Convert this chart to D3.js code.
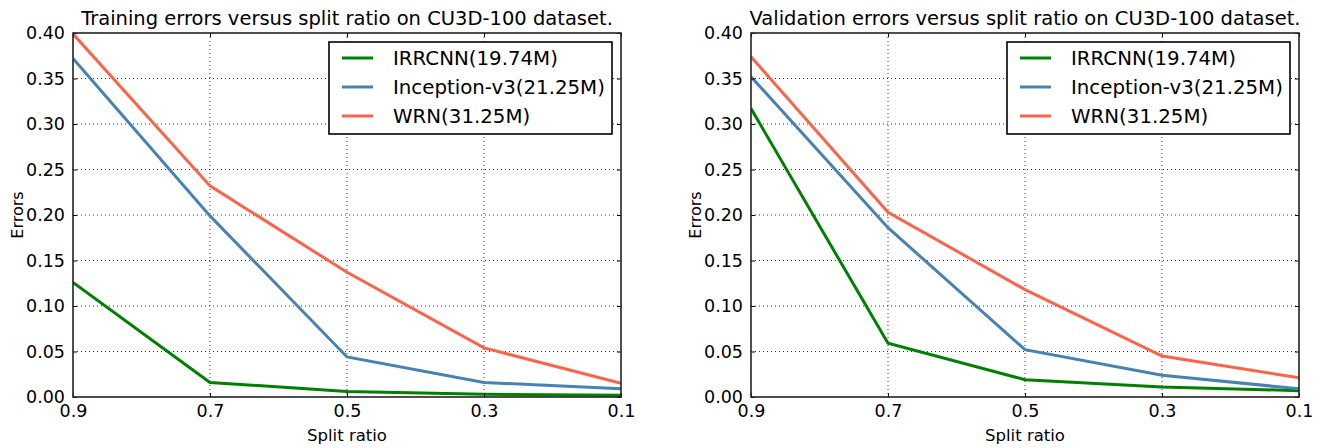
<!DOCTYPE html>
<html>
<head>
<meta charset="utf-8">
<script src="https://cdn.jsdelivr.net/npm/d3@7"></script>
<style>
  body { margin: 0; background: #fff; }
  svg { display: block; }
  text { font-family: "DejaVu Sans", sans-serif; fill: #000; }
</style>
</head>
<body>
<script>
var splitRatios = [0.9, 0.7, 0.5, 0.3, 0.1];
var xTicks = [0.9, 0.7, 0.5, 0.3, 0.1];
var yTicks = [0, 0.05, 0.1, 0.15, 0.2, 0.25, 0.3, 0.35, 0.4];
var seriesNames = ['IRRCNN(19.74M)', 'Inception-v3(21.25M)', 'WRN(31.25M)'];
var seriesColors = ['#008000', '#4682b4', '#ff6347'];

var trainIRRCNN = [0.126, 0.016, 0.006, 0.003, 0.002];
var trainInception = [0.372, 0.199, 0.044, 0.016, 0.009];
var trainWRN = [0.399, 0.232, 0.137, 0.054, 0.015];

var valIRRCNN = [0.317, 0.059, 0.019, 0.011, 0.007];
var valInception = [0.352, 0.186, 0.052, 0.024, 0.009];
var valWRN = [0.374, 0.203, 0.118, 0.045, 0.021];

var svg = d3.select('body').append('svg')
  .attr('width', 1320)
  .attr('height', 448);

var drawPanel = function(opts) {
  var left = opts.left, right = opts.right, top = 33, bottom = 397;
  var x = d3.scaleLinear().domain([0.9, 0.1]).range([left, right]);
  var y = d3.scaleLinear().domain([0, 0.4]).range([bottom, top]);
  var g = svg.append('g');

  // grid
  g.selectAll('.vgrid').data(xTicks.slice(1, -1)).enter().append('line')
    .attr('x1', function(d) { return x(d); })
    .attr('x2', function(d) { return x(d); })
    .attr('y1', top).attr('y2', bottom)
    .attr('stroke', '#000').attr('stroke-width', 0.8)
    .attr('stroke-dasharray', '1,3');
  g.selectAll('.hgrid').data(yTicks.slice(1, -1)).enter().append('line')
    .attr('x1', left).attr('x2', right)
    .attr('y1', function(d) { return y(d); })
    .attr('y2', function(d) { return y(d); })
    .attr('stroke', '#000').attr('stroke-width', 0.8)
    .attr('stroke-dasharray', '1,3');

  // lines
  var line = d3.line()
    .x(function(d, i) { return x(splitRatios[i]); })
    .y(function(d) { return y(d); });
  var clipId = 'clip' + left;
  svg.append('clipPath').attr('id', clipId).append('rect')
    .attr('x', left).attr('y', top).attr('width', right - left).attr('height', bottom - top);
  opts.series.forEach(function(s, i) {
    g.append('path')
      .datum(s)
      .attr('clip-path', 'url(#' + clipId + ')')
      .attr('d', line)
      .attr('fill', 'none')
      .attr('stroke', seriesColors[i])
      .attr('stroke-width', 3);
  });

  // axes (inward ticks on all sides)
  var tickLen = 4;
  g.append('g').attr('transform', 'translate(0,' + bottom + ')')
    .call(d3.axisBottom(x).tickValues(xTicks).tickSizeInner(-tickLen).tickSizeOuter(0).tickPadding(8).tickFormat(d3.format('.1f')));
  g.append('g').attr('transform', 'translate(0,' + top + ')')
    .call(d3.axisTop(x).tickValues(xTicks).tickSizeInner(-tickLen).tickSizeOuter(0).tickFormat(''));
  g.append('g').attr('transform', 'translate(' + left + ',0)')
    .call(d3.axisLeft(y).tickValues(yTicks).tickSizeInner(-tickLen).tickSizeOuter(0).tickPadding(8).tickFormat(d3.format('.2f')));
  g.append('g').attr('transform', 'translate(' + right + ',0)')
    .call(d3.axisRight(y).tickValues(yTicks).tickSizeInner(-tickLen).tickSizeOuter(0).tickFormat(''));
  g.selectAll('.domain').remove();
  g.selectAll('.tick line').attr('stroke', '#000').attr('stroke-width', 1);
  g.selectAll('.tick text').attr('font-size', 17.5).attr('font-family', '"DejaVu Sans", sans-serif').attr('fill', '#000');

  g.append('rect')
    .attr('x', left).attr('y', top)
    .attr('width', right - left).attr('height', bottom - top)
    .attr('fill', 'none').attr('stroke', '#222').attr('stroke-width', 1.6);

  // labels
  g.append('text')
    .attr('x', (left + right) / 2).attr('y', 25)
    .attr('text-anchor', 'middle').attr('font-size', 19.5)
    .text(opts.title);
  g.append('text')
    .attr('x', (left + right) / 2).attr('y', 441)
    .attr('text-anchor', 'middle').attr('font-size', 16.5)
    .text('Split ratio');
  g.append('text')
    .attr('transform', 'translate(' + (left - 50) + ',' + ((top + bottom) / 2) + ') rotate(-90)')
    .attr('text-anchor', 'middle').attr('font-size', 16)
    .text('Errors');

  // legend
  var lx = opts.legendX, ly = 42;
  g.append('rect')
    .attr('x', lx).attr('y', ly).attr('width', 283).attr('height', 92)
    .attr('fill', '#fff').attr('stroke', '#000').attr('stroke-width', 1.6);
  seriesNames.forEach(function(name, i) {
    var yy = ly + 16 + i * 29;
    g.append('line')
      .attr('x1', lx + 13).attr('x2', lx + 44)
      .attr('y1', yy).attr('y2', yy)
      .attr('stroke', seriesColors[i]).attr('stroke-width', 3);
    g.append('text')
      .attr('x', lx + 64).attr('y', yy + 7)
      .attr('font-size', 19.8)
      .text(name);
  });
};

drawPanel({
  left: 73, right: 621, legendX: 329,
  title: 'Training errors versus split ratio on CU3D-100 dataset.',
  series: [trainIRRCNN, trainInception, trainWRN]
});
drawPanel({
  left: 751, right: 1299, legendX: 1007,
  title: 'Validation errors versus split ratio on CU3D-100 dataset.',
  series: [valIRRCNN, valInception, valWRN]
});
</script>
</body>
</html>
